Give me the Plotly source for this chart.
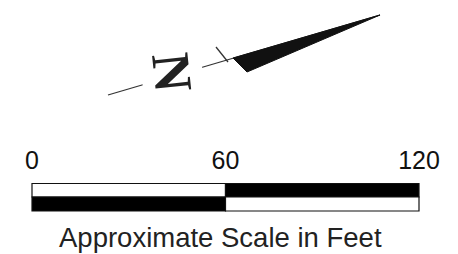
import plotly.graph_objects as go

# Scale bar data (feet)
tick_values = [0, 60, 120]
tick_labels = ["0", "60", "120"]
top_fill = ["white", "black"]      # per segment, upper half
bottom_fill = ["black", "white"]   # per segment, lower half
caption = "Approximate Scale in Feet"

# North arrow geometry (pixel frame of the figure)
arrow_line_x = [108, 380]
arrow_line_y = [95, 15]
arrow_head_x = [233, 380, 247, 233]
arrow_head_y = [58, 15, 72, 58]
base_tick_x = [216, 228]
base_tick_y = [47, 62]
north_label = "<b>N</b>"
north_pos = [172.5, 72.5]

W, H = 458, 254
px_per_ft = (419 - 32) / 120.0
x0_px = 32

fig = go.Figure()

# North arrow (pixel axes x2/y)
fig.add_trace(go.Scatter(x=arrow_line_x, y=arrow_line_y, mode="lines",
                         line=dict(color="#333", width=1.3), xaxis="x2", yaxis="y",
                         hoverinfo="skip"))
fig.add_trace(go.Scatter(x=base_tick_x, y=base_tick_y, mode="lines",
                         line=dict(color="#333", width=1.3), xaxis="x2", yaxis="y",
                         hoverinfo="skip"))
fig.add_trace(go.Scatter(x=arrow_head_x, y=arrow_head_y, mode="lines", fill="toself",
                         fillcolor="#111", line=dict(color="#111", width=1),
                         xaxis="x2", yaxis="y", hoverinfo="skip"))
fig.add_annotation(x=north_pos[0], y=north_pos[1], xref="x2", yref="y", text=north_label,
                   showarrow=False, textangle=84, bgcolor="white",
                   xanchor="center", yanchor="middle",
                   font=dict(family="Liberation Serif", size=54, color="#222"),
                   borderpad=0)

# Scale bar segments (feet axis x / pixel axis y)
y_top, y_mid, y_bot = 183.5, 197, 211
for i in range(len(tick_values) - 1):
    a, b = tick_values[i], tick_values[i + 1]
    fig.add_shape(type="rect", xref="x", yref="y", x0=a, x1=b, y0=y_top, y1=y_mid,
                  fillcolor=top_fill[i], line=dict(color="#111", width=1.2))
    fig.add_shape(type="rect", xref="x", yref="y", x0=a, x1=b, y0=y_mid, y1=y_bot,
                  fillcolor=bottom_fill[i], line=dict(color="#111", width=1.2))

fig.add_trace(go.Scatter(x=tick_values, y=[162.5] * 3, mode="text", text=tick_labels,
                         textposition="middle center",
                         textfont=dict(family="Liberation Sans", size=25, color="#111"),
                         hoverinfo="skip"))

fig.add_annotation(x=220.5 / W, y=1 - 237 / H, xref="paper", yref="paper", text=caption,
                   showarrow=False, xanchor="center", yanchor="middle",
                   font=dict(family="Liberation Sans", size=27.5, color="#222"))

fig.update_layout(
    width=W, height=H, margin=dict(l=0, r=0, t=0, b=0),
    paper_bgcolor="white", plot_bgcolor="white", showlegend=False,
    xaxis=dict(range=[-x0_px / px_per_ft, (W - x0_px) / px_per_ft], visible=False,
               fixedrange=True),
    xaxis2=dict(range=[0, W], overlaying="x", visible=False, fixedrange=True),
    yaxis=dict(range=[H, 0], visible=False, fixedrange=True),
)

fig.write_html("out.html", config={"displayModeBar": False},
               post_script="document.body.style.margin='0';")
